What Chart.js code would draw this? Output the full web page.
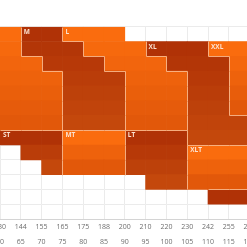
<!DOCTYPE html>
<html>
<head>
<meta charset="utf-8">
<script src="https://cdn.jsdelivr.net/npm/chart.js@4.4.1/dist/chart.umd.min.js"></script>
<style>
  html, body { margin: 0; padding: 0; background: #fff; overflow: hidden; width: 247px; height: 247px; }
  #wrap { position: absolute; left: -40px; top: 0; width: 310px; height: 260px; }
</style>
</head>
<body>
<div id="wrap"><canvas id="sizeChart"></canvas></div>
<script>
// weight ticks: lb on the first line, kg below
const lbTicks = ['130', '144', '155', '165', '175', '188', '200', '210', '220', '230', '242', '255', '265'];
const kgTicks = ['60', '65', '70', '75', '80', '85', '90', '95', '100', '105', '110', '115', '120'];

// size for every cell, top row first, '.' = no size
const sizeRows = [
  ['S', 'M', 'M', 'L', 'L', 'L', '.', '.', '.', '.', '.', '.'],
  ['S', 'M', 'M', 'M', 'L', 'L', 'L', 'XL', 'XL', 'XL', 'XXL', 'XXL'],
  ['S', 'S', 'M', 'M', 'M', 'L', 'L', 'L', 'XL', 'XL', 'XL', 'XXL'],
  ['S', 'S', 'S', 'M', 'M', 'M', 'L', 'L', 'L', 'XL', 'XL', 'XXL'],
  ['S', 'S', 'S', 'M', 'M', 'M', 'L', 'L', 'L', 'XL', 'XL', 'XXL'],
  ['S', 'S', 'S', 'M', 'M', 'M', 'L', 'L', 'L', 'XL', 'XL', 'XXL'],
  ['S', 'S', 'S', 'M', 'M', 'M', 'L', 'L', 'L', 'XL', 'XL', 'XL'],
  ['ST', 'ST', 'ST', 'MT', 'MT', 'MT', 'LT', 'LT', 'LT', 'XL', 'XL', 'XL'],
  ['.', 'ST', 'ST', 'MT', 'MT', 'MT', 'LT', 'LT', 'LT', 'XLT', 'XLT', 'XLT'],
  ['.', '.', 'ST', 'MT', 'MT', 'MT', 'LT', 'LT', 'LT', 'XLT', 'XLT', 'XLT'],
  ['.', '.', '.', '.', '.', '.', '.', 'LT', 'LT', 'XLT', 'XLT', 'XLT'],
  ['.', '.', '.', '.', '.', '.', '.', '.', '.', '.', 'XXLT', 'XXLT'],
  ['.', '.', '.', '.', '.', '.', '.', '.', '.', '.', '.', '.'],
];

const sizes = ['S', 'M', 'L', 'XL', 'XXL', 'ST', 'MT', 'LT', 'XLT', 'XXLT'];
// sizes whose name is written in their first cell
const labelled = ['M', 'L', 'XL', 'XXL', 'ST', 'MT', 'LT', 'XLT'];

// alternating tones, top of a size -> bottom of it
const darkSizes = ['M', 'XL', 'ST', 'LT', 'XXLT'];
const bright = [[250, 108, 14], [226, 88, 10]];
const dark = [[176, 50, 6], [196, 72, 12]];

const nRows = sizeRows.length;
const nCols = sizeRows[0].length;

function sizeAt(r, c) {
  if (r < 0 || c < 0 || r >= nRows || c >= nCols) return '.';
  return sizeRows[r][c];
}

function rowRange(size) {
  let top = -1, bottom = -1;
  sizeRows.forEach((row, r) => {
    if (row.includes(size)) {
      if (top < 0) top = r;
      bottom = r;
    }
  });
  return [top, bottom];
}

function cellColor(size, r) {
  const [top, bottom] = rowRange(size);
  const t = bottom > top ? (r - top) / (bottom - top) : 0;
  const pair = darkSizes.includes(size) ? dark : bright;
  const rgb = pair[0].map((v, i) => Math.round(v + (pair[1][i] - v) * t));
  return `rgb(${rgb[0]},${rgb[1]},${rgb[2]})`;
}

const datasets = sizes.map(size => {
  const data = [];
  sizeRows.forEach((row, r) => {
    row.forEach((s, c) => {
      if (s === size) data.push({ x: c + 0.5, y: [r, r + 1], r: r, c: c });
    });
  });
  return {
    label: size,
    data: data,
    grouped: false,
    barPercentage: 1,
    categoryPercentage: 1,
    borderWidth: 0,
    backgroundColor: ctx => cellColor(size, ctx.raw.r),
  };
});

// light lines where one size meets another, and the size names
const sizeOutlines = {
  id: 'sizeOutlines',
  afterDatasetsDraw(chart) {
    const { ctx, scales } = chart;
    const xs = scales.x, ys = scales.y;
    const px = v => Math.round(xs.getPixelForValue(v)) + 0.5;
    const py = v => Math.round(ys.getPixelForValue(v)) + 0.5;
    ctx.save();
    ctx.strokeStyle = 'rgba(250,184,140,0.9)';
    ctx.lineWidth = 1;
    ctx.beginPath();
    for (let r = 0; r < nRows; r++) {
      for (let c = 0; c < nCols; c++) {
        const s = sizeAt(r, c);
        if (s === '.') continue;
        const left = sizeAt(r, c - 1), up = sizeAt(r - 1, c);
        if (left !== '.' && left !== s) {
          ctx.moveTo(px(c), py(r));
          ctx.lineTo(px(c), py(r + 1));
        }
        if (up !== '.' && up !== s) {
          ctx.moveTo(px(c), py(r));
          ctx.lineTo(px(c + 1), py(r));
        }
      }
    }
    ctx.stroke();

    ctx.font = 'bold 6.5px "Open Sans", sans-serif';
    ctx.fillStyle = '#fbe2d2';
    ctx.textBaseline = 'middle';
    ctx.textAlign = 'left';
    labelled.forEach(size => {
      for (let r = 0; r < nRows; r++) {
        const c = sizeRows[r].indexOf(size);
        if (c >= 0) {
          ctx.fillText(size, xs.getPixelForValue(c) + 3, ys.getPixelForValue(r) + 5.3);
          break;
        }
      }
    });
    ctx.restore();
  },
};

new Chart(document.getElementById('sizeChart'), {
  type: 'bar',
  data: { datasets: datasets },
  plugins: [sizeOutlines],
  options: {
    responsive: true,
    maintainAspectRatio: false,
    animation: false,
    layout: { padding: { left: 40, right: 20.4, top: 26.7, bottom: 9.6 } },
    plugins: {
      legend: { display: false },
      tooltip: { enabled: false },
    },
    scales: {
      x: {
        type: 'linear',
        offset: false,
        min: 0,
        max: nCols,
        ticks: {
          stepSize: 1,
          autoSkip: false,
          maxRotation: 0,
          padding: 1,
          color: '#6e6e6e',
          font: { family: '"Open Sans", sans-serif', size: 7, lineHeight: 2.1 },
          callback: (v, i) => [lbTicks[i], kgTicks[i]],
        },
        grid: { color: '#e8e8e8', drawTicks: false, offset: false },
        border: { color: '#d4d4d4' },
      },
      y: {
        type: 'linear',
        reverse: true,
        min: 0,
        max: nRows,
        ticks: { display: false, stepSize: 1 },
        grid: { color: '#e8e8e8', drawTicks: false },
        border: { display: false },
      },
      // faint cell lines drawn over the coloured cells
      xg: {
        type: 'linear',
        position: 'bottom',
        offset: false,
        min: 0,
        max: nCols,
        z: 1,
        ticks: { display: false, stepSize: 1 },
        grid: { color: 'rgba(255,255,255,0.16)', drawTicks: false, offset: false },
        border: { display: false },
      },
      yg: {
        type: 'linear',
        position: 'left',
        reverse: true,
        min: 0,
        max: nRows,
        z: 1,
        ticks: { display: false, stepSize: 1 },
        grid: { color: 'rgba(255,255,255,0.16)', drawTicks: false },
        border: { display: false },
      },
    },
  },
});
</script>
</body>
</html>
